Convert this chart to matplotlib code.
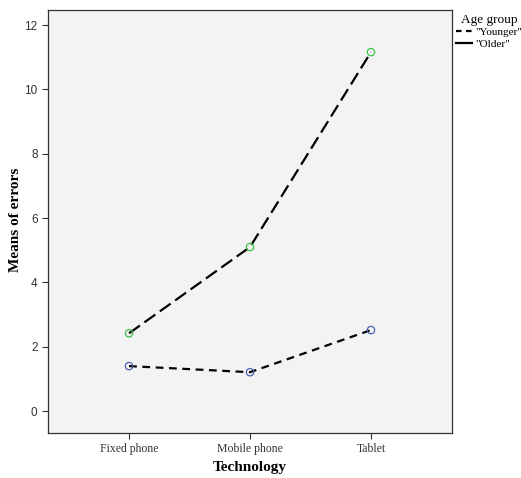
import matplotlib
matplotlib.use("Agg")
import matplotlib.pyplot as plt
from matplotlib.lines import Line2D

technologies = ["Fixed phone", "Mobile phone", "Tablet"]
younger = [1.40, 1.21, 2.52]
older = [2.42, 5.10, 11.16]
y_ticks = [0, 2, 4, 6, 8, 10, 12]

SERIF = "Liberation Serif"
SANS = "Liberation Sans"
W, H = 521, 478

fig = plt.figure(figsize=(W / 100, H / 100), dpi=100)
ax = fig.add_axes([48 / W, 1 - 433 / H, (452 - 48) / W, (433 - 10) / H])
ax.set_facecolor("#f3f3f3")

x = list(range(len(technologies)))
ax.plot(x, younger, color="black", lw=1.6, dashes=(3.5, 2.5), zorder=2)
ax.plot(x, older, color="black", lw=1.6, dashes=(6, 2.5), zorder=2)
ax.scatter(x, younger, s=28, facecolors="none", edgecolors="#4a5fb5", lw=0.9, zorder=3)
ax.scatter(x, older, s=28, facecolors="none", edgecolors="#3cbf4a", lw=0.9, zorder=3)

ax.set_xlim(-0.67, 2.67)
ax.set_ylim(-0.68, 12.47)
ax.set_xticks(x)
ax.set_xticklabels(technologies, fontfamily=SERIF, fontsize=8.5, color="#333333")
ax.set_yticks(y_ticks)
ax.set_yticklabels([str(v) for v in y_ticks], fontfamily=SANS, fontsize=8.5, color="#333333")
ax.tick_params(direction="out", length=4, width=0.8, color="#333333")
for s in ax.spines.values():
    s.set_color("#333333")
    s.set_linewidth(0.9)

fig.text(250 / W, 1 - 467 / H, "Technology", fontfamily=SERIF, fontsize=11,
         fontweight="bold", ha="center", va="center")
fig.text(16 / W, 1 - 220 / H, "Means of errors", fontfamily=SERIF, fontsize=11,
         fontweight="bold", ha="center", va="center", rotation=90)

handles = [
    Line2D([], [], color="black", lw=1.6, dashes=(2.5, 2)),
    Line2D([], [], color="black", lw=1.6),
]
leg = fig.legend(handles, ['"Younger"', '"Older"'], loc="upper left",
                 bbox_to_anchor=(448 / W, 1 - 6 / H), frameon=False,
                 title="Age group", handlelength=1.5, handletextpad=0.3,
                 labelspacing=0.15, borderpad=0.2,
                 prop={"family": SERIF, "size": 8})
leg.get_title().set_fontfamily(SERIF)
leg.get_title().set_fontsize(9.5)

fig.savefig("out.png", dpi=100)
